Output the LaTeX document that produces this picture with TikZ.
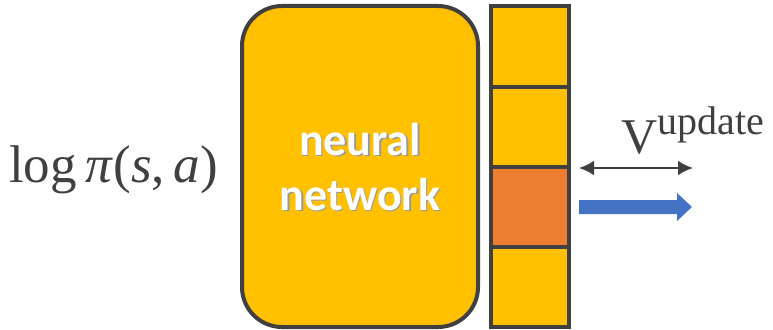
\documentclass[tikz,border=0pt]{standalone}
\usepackage{fontspec}
\newfontfamily\labelfont{Carlito}
\newfontfamily\serifmath{Liberation Serif}
\usetikzlibrary{arrows.meta}
\definecolor{boxfill}{HTML}{FFC000}
\definecolor{hotfill}{HTML}{ED7D31}
\definecolor{edge}{HTML}{404040}
\definecolor{flow}{HTML}{4472C4}
\tikzset{
  cellbox/.style={draw=edge, line width=4pt, fill=boxfill},
  netlabel/.style={font=\labelfont\bfseries\fontsize{46}{55}\selectfont, text=white, align=center},
  shadowlabel/.style={font=\labelfont\bfseries\fontsize{46}{55}\selectfont, text=black!40, align=center},
  mathlabel/.style={text=edge, inner sep=0pt}
}
\begin{document}
\begin{tikzpicture}[x=1pt, y=-1pt]
\useasboundingbox (0,0) rectangle (773,329);
% network body
\draw[cellbox, rounded corners=40pt] (242,6) rectangle (478,327);
\node[coordinate] (net) at (360,167) {};
\node[shadowlabel] at ([shift={(1.5pt,-1.5pt)}]net) {neural\\network};
\node[netlabel] (nettext) at (net) {neural\\network};
% output column
\draw[cellbox] (491,6) rectangle (569,87) node[coordinate] (c1) {};
\draw[cellbox] (491,87) rectangle (569,167) node[coordinate] (c2) {};
\draw[cellbox, fill=hotfill] (491,167) rectangle (569,247) node[coordinate] (c3) {};
\draw[cellbox] (491,247) rectangle (569,327) node[coordinate] (c4) {};
% input label
\node[mathlabel, anchor=base west, font=\serifmath\fontsize{53}{60}\selectfont] (logpi) at (9,182) {log\,\textit{π}(\textit{s},\,\textit{a})};
% update label and arrows
\node[mathlabel, anchor=base west, font=\serifmath\fontsize{50}{56}\selectfont] (vup) at (621,153)
  {V\kern0pt\raisebox{18.5pt}{\fontsize{40}{44}\selectfont update}};
\coordinate (d1) at (579,168);
\coordinate (d2) at (693,168);
\draw[edge, line width=2.5pt, {Latex[length=15pt,width=15pt]}-{Latex[length=15pt,width=15pt]}] (d1) -- (d2);
\coordinate (b1) at (579,207);
\fill[flow] (b1) ++(0,-7) -- ++(98,0) -- ++(0,-7) -- ++(15,14) -- ++(-15,14) -- ++(0,-7) -- ++(-98,0) -- cycle;
\end{tikzpicture}
\end{document}
